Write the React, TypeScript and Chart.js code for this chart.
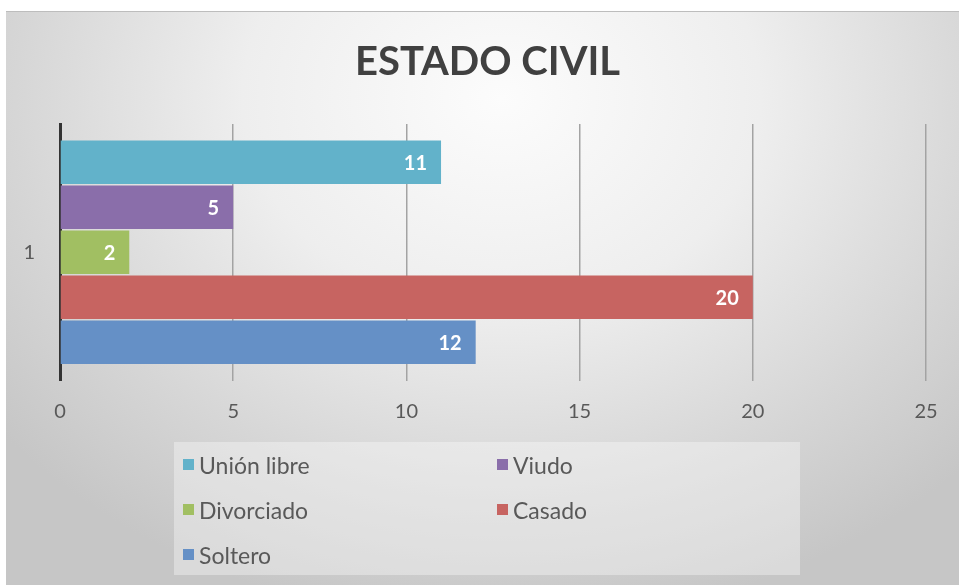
import React, { useEffect, useRef } from "react";
import { Chart, registerables } from "chart.js";

Chart.register(...registerables);

const categories = ["1"];
const seriesNames = ["Unión libre", "Viudo", "Divorciado", "Casado", "Soltero"];
const seriesValues = [11, 5, 2, 20, 12];
const seriesColors = ["#62b2ca", "#8a6eaa", "#a1bf62", "#c76461", "#6590c6"];
const xTicks = [0, 5, 10, 15, 20, 25];
const titleText = "ESTADO CIVIL";

const FONT = "Lato, 'Open Sans', sans-serif";

const valueLabels = {
  id: "valueLabels",
  afterDatasetsDraw(chart: any) {
    const ctx = chart.ctx;
    ctx.save();
    ctx.font = `bold 20px ${FONT}`;
    ctx.fillStyle = "#ffffff";
    ctx.textAlign = "right";
    ctx.textBaseline = "middle";
    chart.data.datasets.forEach((ds: any, i: number) => {
      const meta = chart.getDatasetMeta(i);
      meta.data.forEach((el: any, j: number) => {
        ctx.fillText(String(ds.data[j]), el.x - 14, el.y + 1);
      });
    });
    ctx.restore();
  },
};

export default function App() {
  const ref = useRef<HTMLCanvasElement | null>(null);

  useEffect(() => {
    if (!ref.current) return;
    const chart = new Chart(ref.current, {
      type: "bar",
      data: {
        labels: categories,
        datasets: seriesNames.map((name, i) => ({
          label: name,
          data: [seriesValues[i]],
          backgroundColor: seriesColors[i],
          borderWidth: 0,
          categoryPercentage: 0.878,
          barPercentage: 0.965,
        })),
      },
      plugins: [valueLabels],
      options: {
        indexAxis: "y",
        animation: false,
        responsive: false,
        maintainAspectRatio: false,
        layout: { padding: { top: 0, left: 16, right: 0, bottom: 0 } },
        plugins: {
          legend: { display: false },
          tooltip: { enabled: false },
          title: {
            display: true,
            text: titleText,
            color: "#404040",
            font: { family: FONT, size: 40, weight: "bold" },
            padding: { top: 38, bottom: 38 },
          },
        },
        scales: {
          x: {
            type: "linear",
            min: 0,
            max: 25,
            afterBuildTicks: (scale: any) => {
              scale.ticks = xTicks.map((v) => ({ value: v }));
            },
            afterFit: (scale: any) => {
              scale.height = 204.5;
            },
            grid: { display: true, drawTicks: false, color: "#a3a3a3", lineWidth: 1.5 },
            border: { display: false },
            ticks: {
              padding: 19,
              color: "#595959",
              font: { family: FONT, size: 20 },
            },
          },
          y: {
            type: "category",
            afterFit: (scale: any) => {
              scale.width = 44;
            },
            grid: { display: false, drawTicks: false },
            border: { display: true, color: "#333333", width: 3 },
            ticks: {
              padding: 25,
              color: "#595959",
              font: { family: FONT, size: 20 },
            },
          },
          yRightSpace: {
            type: "category",
            position: "right",
            afterFit: (scale: any) => {
              scale.width = 33;
            },
            grid: { display: false, drawTicks: false },
            border: { display: false },
            ticks: { display: false },
          },
        },
      },
    } as any);
    return () => chart.destroy();
  }, []);

  return (
    <div style={{ position: "absolute", left: 0, top: 0, width: 959, height: 585, background: "#ffffff", overflow: "hidden" }}>
      <div
        style={{
          position: "absolute",
          left: 6,
          top: 11,
          width: 953,
          height: 574,
          borderTop: "1px solid #bdbdbd",
          boxSizing: "border-box",
          background:
            "radial-gradient(ellipse 68% 92% at 52% 15%, #fcfcfc 0%, #eeeeee 40%, #d6d6d6 75%, #c6c6c6 100%)",
        }}
      />
      <canvas ref={ref} width={959} height={585} style={{ position: "absolute", left: 0, top: 0 }} />
      <div
        style={{
          position: "absolute",
          left: 174,
          top: 442,
          width: 626,
          height: 133,
          background: "rgba(255,255,255,0.35)",
        }}
      >
        {seriesNames.map((name, i) => (
          <div
            key={name}
            style={{
              position: "absolute",
              left: i % 2 === 0 ? 9 : 323,
              top: Math.floor(i / 2) * 45,
              height: 45,
              display: "flex",
              alignItems: "center",
              fontFamily: FONT,
              fontSize: 23,
              color: "#595959",
              whiteSpace: "nowrap",
            }}
          >
            <span style={{ display: "inline-block", width: 11, height: 11, background: seriesColors[i], marginRight: 5 }} />
            <span>{name}</span>
          </div>
        ))}
      </div>
    </div>
  );
}
